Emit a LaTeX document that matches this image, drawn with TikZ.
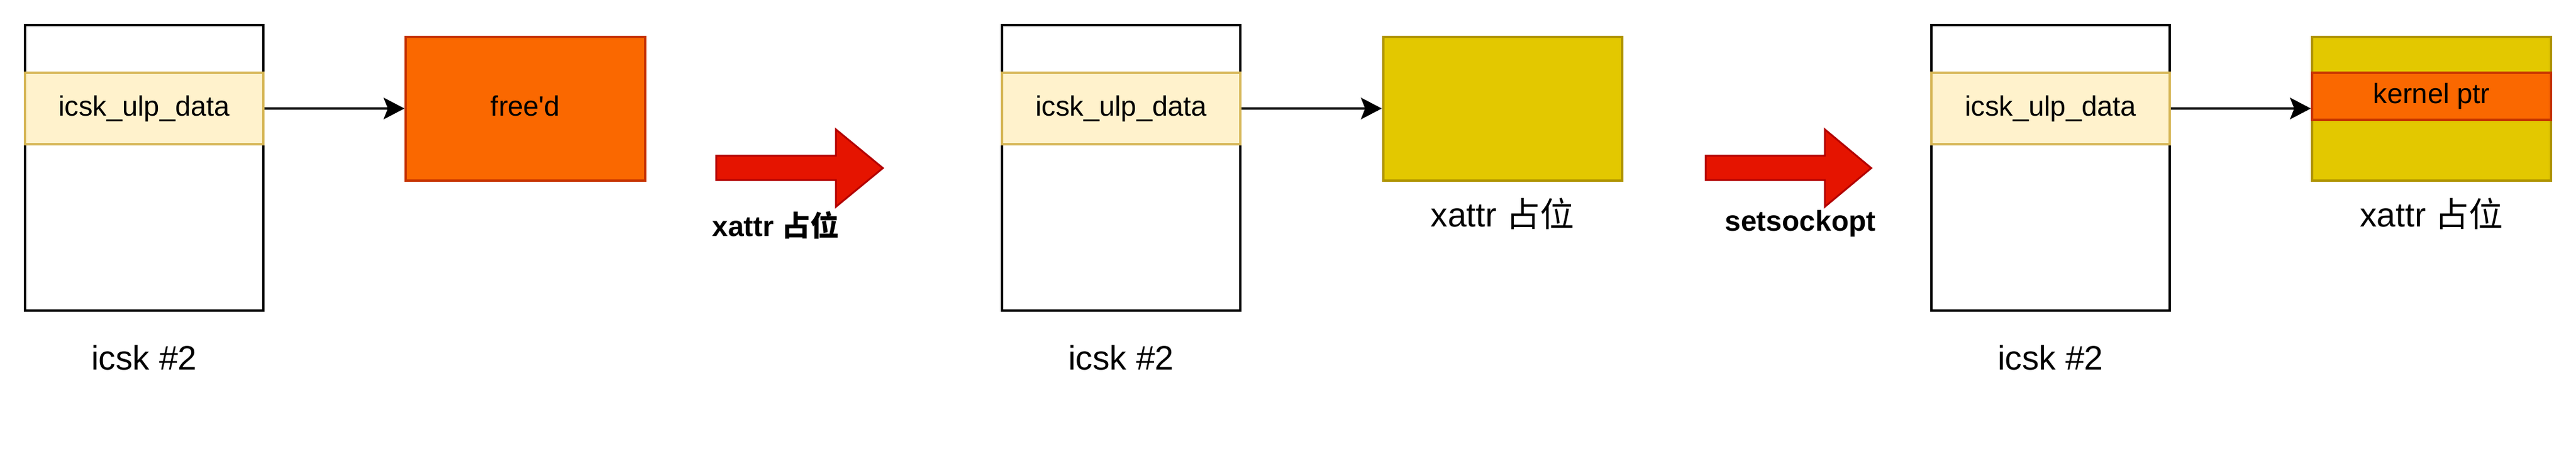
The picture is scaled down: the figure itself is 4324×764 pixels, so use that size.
\documentclass[tikz,border=0pt]{standalone}
\usepackage{fontspec}
\setmainfont{Liberation Sans}
\newfontfamily\cjk{Noto Sans CJK SC}
\usetikzlibrary{arrows.meta}
\definecolor{bandfill}{HTML}{FFF2CC}
\definecolor{bandline}{HTML}{D6B656}
\definecolor{freefill}{HTML}{FA6800}
\definecolor{freeline}{HTML}{C73500}
\definecolor{yelfill}{HTML}{E3C800}
\definecolor{yelline}{HTML}{B09500}
\definecolor{redfill}{HTML}{E51400}
\definecolor{redline}{HTML}{B20000}
\begin{document}
\begin{tikzpicture}[x=1pt,y=-1pt,
  sockbox/.style={draw=black, line width=4pt, fill=white, minimum width=400pt, minimum height=479pt, inner sep=0pt},
  boxtext/.style={font=\fontsize{47}{56}\selectfont, text height=34pt, text depth=10pt, inner sep=0pt},
  band/.style={boxtext, draw=bandline, fill=bandfill, line width=4pt, minimum width=400pt, minimum height=120pt},
  freebox/.style={boxtext, draw=freeline, fill=freefill, line width=4pt, minimum width=402pt, minimum height=241pt},
  yelbox/.style={boxtext, draw=yelline, fill=yelfill, line width=4pt, minimum width=401pt, minimum height=241pt},
  ptrband/.style={boxtext, draw=freeline, fill=freefill, line width=4pt, minimum width=401pt, minimum height=79pt},
  conn/.style={line width=4pt, -{Stealth[length=35pt, width=36pt, inset=7pt]}},
  bigarrow/.style={draw=redline, fill=redfill, line width=3pt, line join=miter},
  hand/.style={font=\fontsize{57}{68}\selectfont},
  boldlab/.style={font=\fontsize{48}{58}\selectfont\bfseries}
]
\useasboundingbox (0,0) rectangle (4324,764);
\fill[white] (0,0) rectangle (4324,764);

% group 1
\node[sockbox] (sock1) at (242,281.5) {};
\node[band] (band1) at (242,182) {icsk\_ulp\_data};
\node[freebox] (freed) at (882,182) {free\textquotesingle d};
\draw[conn] (band1.east) -- (freed.west);
\node[hand, anchor=base] (lab1) at (242,620) {icsk \#2};

% big arrow 1
\draw[bigarrow] (1202,261) -- (1403,261) -- (1403,217) -- (1482,282) -- (1403,347) -- (1403,302) -- (1202,302) -- cycle;
\node[boldlab, anchor=base] (op1) at (1302,396) {xattr {\cjk 占位}};

% group 2
\node[sockbox] (sock2) at (1882,281.5) {};
\node[band] (band2) at (1882,182) {icsk\_ulp\_data};
\node[yelbox] (xat1) at (2522,182) {};
\draw[conn] (band2.east) -- (xat1.west);
\node[hand, anchor=base] (lab2) at (1882,620) {icsk \#2};
\node[hand, anchor=base] (xl1) at (2522,380) {xattr {\cjk 占位}};

% big arrow 2
\draw[bigarrow] (2863,261) -- (3063,261) -- (3063,217) -- (3141,282) -- (3063,347) -- (3063,302) -- (2863,302) -- cycle;
\node[boldlab, anchor=base] (op2) at (3022,387) {setsockopt};

% group 3
\node[sockbox] (sock3) at (3442,281.5) {};
\node[band] (band3) at (3442,182) {icsk\_ulp\_data};
\node[yelbox] (xat2) at (4081.5,182) {};
\node[ptrband] (kptr) at (4081.5,161.5) {kernel ptr};
\draw[conn] (band3.east) -- (xat2.west);
\node[hand, anchor=base] (lab3) at (3442,620) {icsk \#2};
\node[hand, anchor=base] (xl2) at (4081.5,380) {xattr {\cjk 占位}};
\end{tikzpicture}
\end{document}
